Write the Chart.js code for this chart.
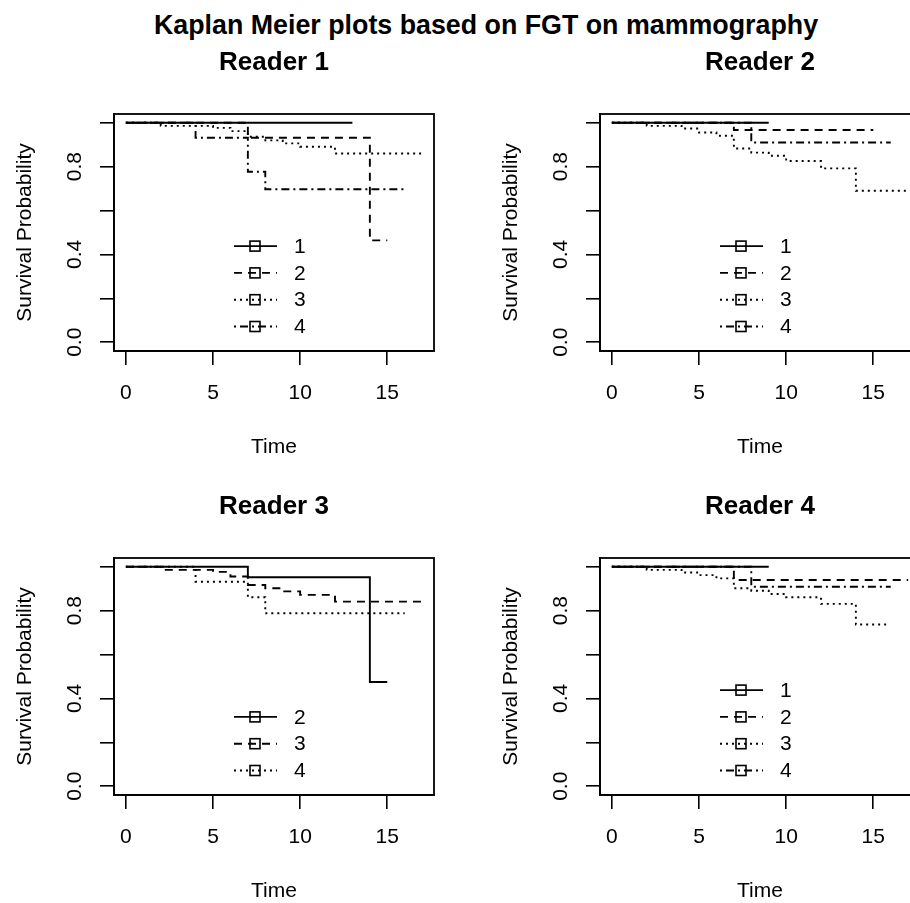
<!DOCTYPE html>
<html>
<head>
<meta charset="utf-8">
<script src="https://cdn.jsdelivr.net/npm/chart.js@4.4.1/dist/chart.umd.min.js"></script>
<style>
html,body{margin:0;padding:0;background:#fff;}
#fig{position:relative;width:910px;height:903px;overflow:hidden;background:#fff;}
#mainTitle{position:absolute;left:0;top:12px;width:972px;text-align:center;font:bold 26.8px "Liberation Sans",Arial,sans-serif;line-height:26.8px;color:#000;white-space:nowrap;}
.panel{position:absolute;width:486px;height:444px;}
.panel canvas{display:block;}
</style>
</head>
<body>
<div id="fig">
  <div id="mainTitle">Kaplan Meier plots based on FGT on mammography</div>
  <div class="panel" style="left:0px;top:40px"><canvas id="c1" width="486" height="444"></canvas></div>
  <div class="panel" style="left:486px;top:40px"><canvas id="c2" width="486" height="444"></canvas></div>
  <div class="panel" style="left:0px;top:484px"><canvas id="c3" width="486" height="444"></canvas></div>
  <div class="panel" style="left:486px;top:484px"><canvas id="c4" width="486" height="444"></canvas></div>
</div>
<script>
// ---------- data ----------
const xTicks = [0, 5, 10, 15];
const yTicks = [0, 0.2, 0.4, 0.6, 0.8, 1.0];
const yTickLabels = ['0.0', '', '0.4', '', '0.8', ''];

// Reader 1
const reader1Labels = ['1', '2', '3', '4'];
const r1Time1 = [0, 13];
const r1Surv1 = [1, 1];
const r1Time2 = [0, 7, 14, 15];
const r1Surv2 = [1, 0.932, 0.464, 0.464];
const r1Time3 = [0, 2, 5, 6, 7, 8, 9, 10, 12, 17];
const r1Surv3 = [1, 0.986, 0.977, 0.962, 0.936, 0.92, 0.906, 0.891, 0.86, 0.86];
const r1Time4 = [0, 4, 7, 8, 16];
const r1Surv4 = [1, 0.932, 0.777, 0.697, 0.697];

// Reader 2
const reader2Labels = ['1', '2', '3', '4'];
const r2Time1 = [0, 9];
const r2Surv1 = [1, 1];
const r2Time2 = [0, 7, 15];
const r2Surv2 = [1, 0.967, 0.967];
const r2Time3 = [0, 2, 4, 5, 6, 7, 8, 9, 10, 12, 14, 17];
const r2Surv3 = [1, 0.986, 0.974, 0.956, 0.941, 0.883, 0.864, 0.85, 0.826, 0.792, 0.69, 0.69];
const r2Time4 = [0, 8, 16];
const r2Surv4 = [1, 0.91, 0.91];

// Reader 3
const reader3Labels = ['2', '3', '4'];
const r3Time1 = [0, 7, 14, 15];
const r3Surv1 = [1, 0.952, 0.475, 0.475];
const r3Time2 = [0, 2, 5, 6, 7, 8, 9, 10, 12, 17];
const r3Surv2 = [1, 0.986, 0.977, 0.956, 0.917, 0.902, 0.888, 0.872, 0.841, 0.841];
const r3Time3 = [0, 4, 7, 8, 16];
const r3Surv3 = [1, 0.932, 0.861, 0.788, 0.788];

// Reader 4
const reader4Labels = ['1', '2', '3', '4'];
const r4Time1 = [0, 9];
const r4Surv1 = [1, 1];
const r4Time2 = [0, 7, 17];
const r4Surv2 = [1, 0.94, 0.94];
const r4Time3 = [0, 2, 4, 5, 6, 7, 8, 9, 10, 12, 14, 15.8];
const r4Surv3 = [1, 0.986, 0.974, 0.962, 0.947, 0.902, 0.891, 0.876, 0.861, 0.831, 0.737, 0.737];
const r4Time4 = [0, 8, 16];
const r4Surv4 = [1, 0.909, 0.909];

// ---------- styles ----------
const FONT = '"Liberation Sans", Arial, Helvetica, sans-serif';
const lineDashes = [[], [8, 6], [2, 4], [2, 4, 8, 4]];
Chart.defaults.font.family = FONT;
Chart.defaults.color = '#000';

const boxPlugin = {
  id: 'rbox',
  afterDraw(chart) {
    const a = chart.chartArea, ctx = chart.ctx;
    ctx.save();
    ctx.strokeStyle = '#000';
    ctx.lineWidth = 1.8;
    ctx.strokeRect(a.left, a.top, a.right - a.left, a.bottom - a.top);
    ctx.restore();
  }
};

const panelTitlePlugin = {
  id: 'panelTitle',
  afterDraw(chart, args, opts) {
    const a = chart.chartArea, ctx = chart.ctx;
    ctx.save();
    ctx.fillStyle = '#000';
    ctx.font = 'bold 26px ' + FONT;
    ctx.textAlign = 'center';
    ctx.textBaseline = 'alphabetic';
    ctx.fillText(opts.text, (a.left + a.right) / 2, a.top - 44);
    ctx.restore();
  }
};

const rLegendPlugin = {
  id: 'rLegend',
  afterDraw(chart) {
    const a = chart.chartArea, ctx = chart.ctx;
    const ds = chart.data.datasets;
    const n = ds.length;
    const rowH = 26.8;
    ctx.save();
    ctx.strokeStyle = '#000';
    ctx.fillStyle = '#000';
    ctx.font = '21px ' + FONT;
    ctx.textAlign = 'left';
    ctx.textBaseline = 'middle';
    ds.forEach((d, i) => {
      const y = a.bottom - 24.5 - (n - 1 - i) * rowH;
      const x0 = a.left + 120, x1 = a.left + 163, xm = a.left + 141;
      ctx.lineWidth = d.borderWidth;
      ctx.setLineDash(d.borderDash || []);
      ctx.beginPath();
      ctx.moveTo(x0, y);
      ctx.lineTo(x1, y);
      ctx.stroke();
      ctx.setLineDash([]);
      ctx.lineWidth = 1.6;
      ctx.strokeRect(xm - 5, y - 5, 10, 10);
      ctx.fillText(d.label, a.left + 180, y + 1);
    });
    ctx.restore();
  }
};

function makeDatasets(labels, times, survs) {
  return labels.map((lab, i) => ({
    label: lab,
    data: times[i].map((t, k) => ({ x: t, y: survs[i][k] })),
    stepped: true,
    borderColor: '#000',
    borderWidth: 1.9,
    borderDash: lineDashes[i],
    borderCapStyle: 'butt',
    pointRadius: 0,
    fill: false,
    tension: 0
  }));
}

function makeChart(id, title, labels, times, survs) {
  const tickFont = { size: 21, family: FONT };
  new Chart(document.getElementById(id), {
    type: 'line',
    data: { datasets: makeDatasets(labels, times, survs) },
    options: {
      responsive: false,
      animation: false,
      events: [],
      layout: { padding: { left: 0, right: 52, top: 74, bottom: 0 } },
      plugins: {
        legend: { display: false },
        title: { display: false },
        tooltip: { enabled: false },
        panelTitle: { text: title }
      },
      scales: {
        x: {
          type: 'linear',
          min: -0.68,
          max: 17.68,
          afterBuildTicks: s => { s.ticks = xTicks.map(v => ({ value: v })); },
          afterFit: s => { s.height = 133; },
          ticks: { autoSkip: false, minRotation: 0, maxRotation: 0, padding: 15.4, color: '#000', font: tickFont },
          grid: { drawOnChartArea: false, drawTicks: true, tickLength: 14, color: '#000', lineWidth: 1.6 },
          border: { display: true, color: '#000', width: 1.8 },
          title: { display: true, text: 'Time', color: '#000', font: tickFont, padding: { top: 0, bottom: 24.4 } }
        },
        y: {
          type: 'linear',
          min: -0.04,
          max: 1.04,
          afterBuildTicks: s => { s.ticks = yTicks.map(v => ({ value: v })); },
          afterFit: s => { s.width = 114; },
          ticks: {
            autoSkip: false, minRotation: 90, maxRotation: 90, crossAlign: 'center', padding: 10.4,
            color: '#000', font: tickFont,
            callback: (v, i) => yTickLabels[i]
          },
          grid: { drawOnChartArea: false, drawTicks: true, tickLength: 14, color: '#000', lineWidth: 1.6 },
          border: { display: true, color: '#000', width: 1.8 },
          title: { display: true, text: 'Survival Probability', color: '#000', font: tickFont, padding: { top: 12.4, bottom: 0 } }
        }
      }
    },
    plugins: [boxPlugin, panelTitlePlugin, rLegendPlugin]
  });
}

makeChart('c1', 'Reader 1', reader1Labels,
  [r1Time1, r1Time2, r1Time3, r1Time4], [r1Surv1, r1Surv2, r1Surv3, r1Surv4]);
makeChart('c2', 'Reader 2', reader2Labels,
  [r2Time1, r2Time2, r2Time3, r2Time4], [r2Surv1, r2Surv2, r2Surv3, r2Surv4]);
makeChart('c3', 'Reader 3', reader3Labels,
  [r3Time1, r3Time2, r3Time3], [r3Surv1, r3Surv2, r3Surv3]);
makeChart('c4', 'Reader 4', reader4Labels,
  [r4Time1, r4Time2, r4Time3, r4Time4], [r4Surv1, r4Surv2, r4Surv3, r4Surv4]);
</script>
</body>
</html>
